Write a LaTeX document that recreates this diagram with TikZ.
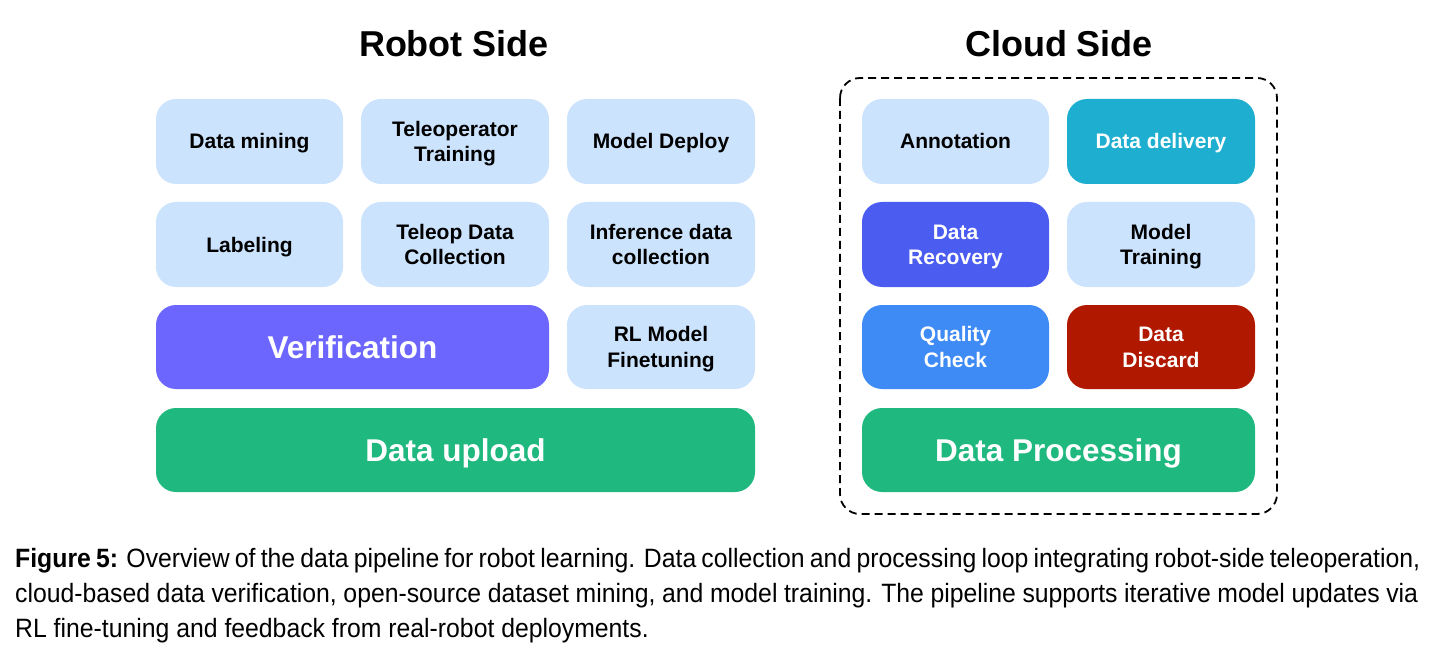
\documentclass[tikz,border=0pt]{standalone}
\usepackage{fontspec}
\setmainfont{Liberation Sans}
\newfontfamily\capfont{Liberation Sans}[FakeStretch=0.935]
\definecolor{lightbox}{HTML}{CCE3FD}
\definecolor{verif}{HTML}{6C66FF}
\definecolor{delivery}{HTML}{1EAFD0}
\definecolor{recovery}{HTML}{4B5CF0}
\definecolor{quality}{HTML}{3E8BF5}
\definecolor{discard}{HTML}{B01800}
\definecolor{greenbox}{HTML}{1FB87E}
\tikzset{
  cell/.style={rounded corners=20pt, inner sep=0pt, align=center,
    font=\bfseries\fontsize{21}{25.7}\selectfont, text=black,
    text height=15pt, text depth=0pt},
  twoline/.style={text height=40.7pt, text depth=0pt},
  light/.style={cell, fill=lightbox},
  dark/.style={cell, text=white},
  big/.style={cell, text=white, font=\bfseries\fontsize{31.5}{36}\selectfont,
    text height=22.5pt, text depth=0pt},
  title/.style={anchor=base, inner sep=0pt, font=\bfseries\fontsize{36}{40}\selectfont},
  captext/.style={anchor=base west, inner sep=0pt, font=\capfont\fontsize{26.5}{30}\selectfont},
}
\begin{document}
\begin{tikzpicture}[x=1pt,y=-1pt]
\useasboundingbox (0,0) rectangle (1438,655);
\node[title] (robot) at (454,57) {Robot Side};
\node[title] (cloud) at (1059,57) {Cloud Side};
% robot side
\node[light, minimum width=187pt, minimum height=85pt] (mining) at (249.5,141.5) {Data mining};
\node[light, twoline, minimum width=188pt, minimum height=85pt] (teleop) at (455,141.5) {Teleoperator\\Training};
\node[light, minimum width=188pt, minimum height=85pt] (deploy) at (661,141.5) {Model Deploy};
\node[light, minimum width=187pt, minimum height=85pt] (label) at (249.5,244.5) {Labeling};
\node[light, twoline, minimum width=188pt, minimum height=85pt] (tdc) at (455,244.5) {Teleop Data\\Collection};
\node[light, twoline, minimum width=188pt, minimum height=85pt] (infer) at (661,244.5) {Inference data\\collection};
\node[big, fill=verif, minimum width=393pt, minimum height=84pt] (verif) at (352.5,347) {Verification};
\node[light, twoline, minimum width=188pt, minimum height=84pt] (rl) at (661,347) {RL Model\\Finetuning};
\node[big, fill=greenbox, minimum width=599pt, minimum height=84pt] (upload) at (455.5,450) {Data upload};
% cloud side
\draw[line width=1.8pt, dash pattern=on 8pt off 5pt, rounded corners=20pt] (840,78) rectangle (1277,514);
\node[light, minimum width=187pt, minimum height=85pt] (annot) at (955.5,141.5) {Annotation};
\node[dark, fill=delivery, minimum width=188pt, minimum height=85pt] (deliv) at (1161,141.5) {Data delivery};
\node[dark, twoline, fill=recovery, minimum width=187pt, minimum height=85pt] (recov) at (955.5,244.5) {Data\\Recovery};
\node[light, twoline, minimum width=188pt, minimum height=85pt] (mtrain) at (1161,244.5) {Model\\Training};
\node[dark, twoline, fill=quality, minimum width=187pt, minimum height=84pt] (qual) at (955.5,347) {Quality\\Check};
\node[dark, twoline, fill=discard, minimum width=188pt, minimum height=84pt] (disc) at (1161,347) {Data\\Discard};
\node[big, fill=greenbox, minimum width=393pt, minimum height=84pt] (proc) at (1058.5,450) {Data Processing};
% caption
\node[captext] (c1) at (15,567) {\makebox[1405pt][s]{\textbf{Figure 5:} Overview of the data pipeline for robot learning. Data collection and processing loop integrating robot-side teleoperation,}};
\node[captext] (c2) at (15,602.5) {\makebox[1403pt][s]{cloud-based data verification, open-source dataset mining, and model training. The pipeline supports iterative model updates via}};
\node[captext] (c3) at (15,637) {RL fine-tuning and feedback from real-robot deployments.};
\end{tikzpicture}
\end{document}
